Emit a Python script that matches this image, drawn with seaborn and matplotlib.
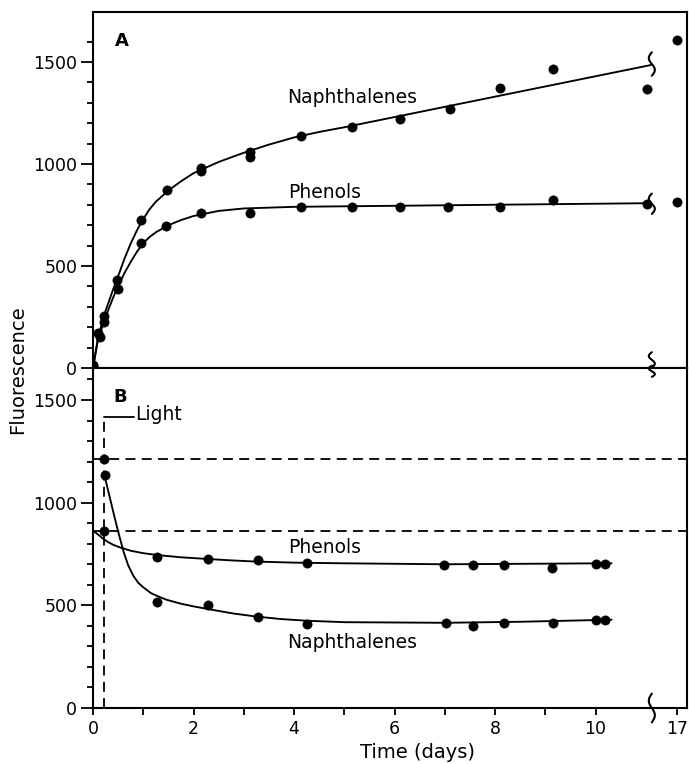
import numpy as np
import pandas as pd
import matplotlib
matplotlib.use("Agg")
import matplotlib.pyplot as plt
import seaborn as sns

# ---------------- data ----------------
# Panel A: measured points (time in days; 17 sits beyond the axis break)
a_naph_t = [0, 0.10, 0.21, 0.47, 0.96, 1.47, 2.14, 2.14, 3.12, 3.12, 4.13, 5.15, 6.11, 7.10, 8.10, 9.16, 11.02, 17]
a_naph_y = [15, 170, 255, 431, 725, 872, 979, 966, 1060, 1036, 1137, 1180, 1219, 1270, 1371, 1464, 1366, 1608]
a_phen_t = [0, 0.14, 0.21, 0.49, 0.96, 1.46, 2.14, 3.12, 4.13, 5.15, 6.11, 7.07, 8.10, 9.16, 11.02, 17]
a_phen_y = [10, 150, 225, 386, 611, 694, 758, 761, 787, 790, 790, 787, 790, 823, 804, 815]

# Panel A: fitted curves
a_naph_fit_t = [0, 0.1, 0.25, 0.4, 0.5, 0.625, 0.75, 0.875, 1.0, 1.125, 1.25, 1.5, 1.75, 2.0,
                2.5, 3.0, 3.5, 4.0, 4.5, 5.0, 11.1]
a_naph_fit_y = [0, 150, 280, 385, 450, 535, 610, 675, 730, 778, 815, 870, 915, 955,
                1010, 1055, 1095, 1130, 1157, 1180, 1485]
a_phen_fit_t = [0, 0.1, 0.25, 0.4, 0.5, 0.625, 0.75, 0.875, 1.0, 1.125, 1.25, 1.5, 1.75, 2.0,
                2.5, 3.0, 4.0, 11.1]
a_phen_fit_y = [0, 140, 250, 345, 400, 465, 520, 570, 612, 642, 665, 700, 725, 745,
                770, 782, 790, 808]

# Panel B: measured points
b_naph_t = [0.215, 0.235, 1.28, 2.28, 3.28, 4.26, 7.03, 7.56, 8.17, 9.16, 10.01, 10.19]
b_naph_y = [1211, 1135, 518, 502, 442, 409, 412, 399, 412, 412, 429, 429]
b_phen_t = [0.215, 1.28, 2.28, 3.28, 4.26, 6.99, 7.56, 8.17, 9.14, 10.01, 10.19]
b_phen_y = [864, 734, 726, 721, 708, 697, 697, 697, 684, 701, 701]

# Panel B: fitted curves
b_naph_fit_t = [0.25, 0.33, 0.41, 0.51, 0.61, 0.7, 0.8, 0.9, 1.0, 1.15, 1.3, 1.48, 1.75, 2.0,
                2.4, 2.8, 3.26, 3.75, 4.26, 5.0, 7.0, 8.5, 10.32]
b_naph_fit_y = [1110, 1030, 948, 850, 760, 695, 645, 610, 588, 560, 543, 526, 508, 495,
                477, 460, 445, 433, 425, 418, 415, 420, 430]
b_phen_fit_t = [0, 0.1, 0.2, 0.3, 0.41, 0.55, 0.75, 1.0, 1.28, 1.75, 2.27, 2.75, 3.26, 4.0,
                4.92, 7.0, 10.32]
b_phen_fit_y = [864, 845, 825, 808, 794, 781, 766, 754, 745, 734, 726, 719, 713, 708,
                705, 700, 705]

# Panel B reference levels and light-on time
b_levels = [1211, 864]
light_t = 0.215
light_top = 1419

x_major = [0, 2, 4, 6, 8, 10, 17]
x_major_labels = ["0", "2", "4", "6", "8", "10", "17"]
x_minor = [1, 3, 5, 7, 9]
y_major = [0, 500, 1000, 1500]
y_major_labels = ["0", "500", "1000", "1500"]

# ---------------- styling ----------------
sns.set_style("ticks")
plt.rcParams["font.family"] = ["DejaVu Sans"]
plt.rcParams.update({
    "axes.linewidth": 1.5,
    "text.color": "black",
    "axes.labelcolor": "black",
    "axes.edgecolor": "black",
    "xtick.color": "black",
    "ytick.color": "black",
})

BREAK_POS = 11.12   # display position of the axis break
POS_17 = 11.62      # display position of day 17
XMAX = 11.81


def disp(t):
    t = np.asarray(t, dtype=float)
    return np.where(t > 12, POS_17, t)


fig = plt.figure(figsize=(6.89, 7.64), dpi=100)
left, right = 92.5 / 689, 686.5 / 689
axA = fig.add_axes([left, 1 - 368 / 764, right - left, (368 - 12) / 764])
axB = fig.add_axes([left, 1 - 708 / 764, right - left, (708 - 368) / 764])

pt_size = 44
lw_curve = 1.35


def draw_series(ax, t, y, ft, fy):
    dfp = pd.DataFrame({"t": disp(t), "y": y})
    dff = pd.DataFrame({"t": ft, "y": fy})
    sns.lineplot(data=dff, x="t", y="y", ax=ax, color="black", lw=lw_curve,
                 sort=False, estimator=None)
    sns.scatterplot(data=dfp, x="t", y="y", ax=ax, color="black", s=pt_size,
                    edgecolor="black", linewidth=0.5, zorder=3)


draw_series(axA, a_naph_t, a_naph_y, a_naph_fit_t, a_naph_fit_y)
draw_series(axA, a_phen_t, a_phen_y, a_phen_fit_t, a_phen_fit_y)
draw_series(axB, b_naph_t, b_naph_y, b_naph_fit_t, b_naph_fit_y)
draw_series(axB, b_phen_t, b_phen_y, b_phen_fit_t, b_phen_fit_y)

# dashed reference levels in B
for lev in b_levels:
    axB.axhline(lev, color="black", lw=1.3, dashes=(5.5, 3.5))
axB.plot([light_t, light_t], [0, light_top], color="black", lw=1.3, dashes=(5.5, 3.5))
axB.plot([light_t, 0.82], [light_top, light_top], color="black", lw=1.3)
axB.text(0.84, light_top + 10, "Light", fontsize=13.5, va="center", ha="left")

# axis limits
for ax in (axA, axB):
    ax.set_xlim(-0.01, XMAX)
    ax.set_xlabel("")
    ax.set_ylabel("")
    ax.set_xticks(disp(x_major))
    ax.set_xticks(x_minor, minor=True)
    ax.set_yticks(y_major)
    ax.set_yticks(np.arange(100, 1700, 100), minor=True)
    ax.set_yticklabels(y_major_labels)
    ax.tick_params(axis="y", which="major", direction="out", length=9, width=1.3,
                   labelsize=12.5, pad=2)
    ax.tick_params(axis="y", which="minor", direction="out", length=4, width=1.3)
    for s in ax.spines.values():
        s.set_linewidth(1.5)

axA.set_ylim(0, 1745)
axB.set_ylim(0, 1656)

axA.tick_params(axis="x", which="both", direction="out", length=9, width=1.3,
                labelbottom=False)
axB.tick_params(axis="x", which="both", direction="out", length=5, width=1.3,
                labelsize=12.5, pad=4)
axB.set_xticklabels(x_major_labels)

# panel letters and series labels
axA.text(0.58, 1605, "A", fontsize=13, fontweight="bold", ha="center", va="center")
axB.text(0.55, 1515, "B", fontsize=13, fontweight="bold", ha="center", va="center")
axA.text(5.15, 1325, "Naphthalenes", fontsize=13.5, ha="center", va="center")
axA.text(4.6, 860, "Phenols", fontsize=13.5, ha="center", va="center")
axB.text(4.6, 780, "Phenols", fontsize=13.5, ha="center", va="center")
axB.text(5.15, 318, "Naphthalenes", fontsize=13.5, ha="center", va="center")


def squiggle(ax, x0, yc, h, w=0.06):
    s = np.linspace(0, 1, 40)
    ax.plot(x0 + w * np.sin(2 * np.pi * s), yc + (s - 0.5) * h, color="black",
            lw=1.5, clip_on=False, zorder=5, solid_capstyle="round")


squiggle(axA, BREAK_POS, 1490, 115)
squiggle(axA, BREAK_POS, 805, 100)
squiggle(axA, BREAK_POS, 40, 75)
squiggle(axB, BREAK_POS, 1640, 55)
squiggle(axB, BREAK_POS, 0, 140)

fig.text(18 / 689, 1 - 370 / 764, "Fluorescence", rotation=90, fontsize=14,
         ha="center", va="center")
fig.text(417 / 689, 1 - 752 / 764, "Time (days)", fontsize=14, ha="center", va="center")

fig.savefig("out.png", dpi=100)
